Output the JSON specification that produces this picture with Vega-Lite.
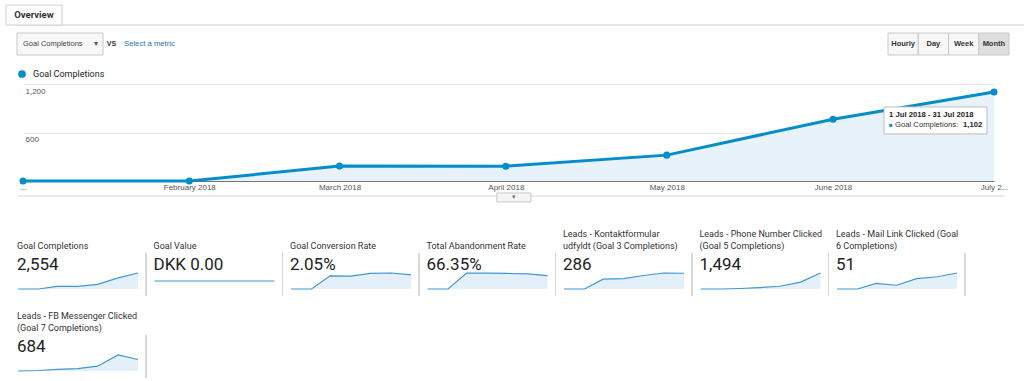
{
  "$schema": "https://vega.github.io/schema/vega-lite/v6.json",
  "background": "white",
  "padding": {"left": 5, "top": 4, "right": 0, "bottom": 0},
  "bounds": "flush",
  "spacing": 8,
  "resolve": {"legend": {"color": "independent"}},
  "config": {"view": {"stroke": null}, "font": "Liberation Sans"},
  "datasets": {
    "main": [
      {"month": "2018-01-01T00:00", "value": 0, "metric": "Goal Completions"},
      {"month": "2018-02-01T00:00", "value": 0, "metric": "Goal Completions"},
      {"month": "2018-03-01T00:00", "value": 184, "metric": "Goal Completions"},
      {"month": "2018-04-01T00:00", "value": 183, "metric": "Goal Completions"},
      {"month": "2018-05-01T00:00", "value": 320, "metric": "Goal Completions"},
      {"month": "2018-06-01T00:00", "value": 765, "metric": "Goal Completions"},
      {"month": "2018-07-01T00:00", "value": 1102, "metric": "Goal Completions"}
    ],
    "tiles": [
      {"tile": "t1", "ord": 1, "title": "Goal Completions", "display": "2,554"},
      {"tile": "t2", "ord": 2, "title": "Goal Value", "display": "DKK 0.00"},
      {"tile": "t3", "ord": 3, "title": "Goal Conversion Rate", "display": "2.05%"},
      {"tile": "t4", "ord": 4, "title": "Total Abandonment Rate", "display": "66.35%"},
      {"tile": "t5", "ord": 5, "title": "Leads - Kontaktformular|udfyldt (Goal 3 Completions)", "display": "286"},
      {"tile": "t6", "ord": 6, "title": "Leads - Phone Number Clicked|(Goal 5 Completions)", "display": "1,494"},
      {"tile": "t7", "ord": 7, "title": "Leads - Mail Link Clicked (Goal|6 Completions)", "display": "51"},
      {"tile": "t8", "ord": 8, "title": "Leads - FB Messenger Clicked|(Goal 7 Completions)", "display": "684"}
    ],
    "spark": [
      {"tile": "t1", "month": "2018-01-01T00:00", "v": 0},
      {"tile": "t1", "month": "2018-02-01T00:00", "v": 0},
      {"tile": "t1", "month": "2018-03-01T00:00", "v": 184},
      {"tile": "t1", "month": "2018-04-01T00:00", "v": 183},
      {"tile": "t1", "month": "2018-05-01T00:00", "v": 320},
      {"tile": "t1", "month": "2018-06-01T00:00", "v": 765},
      {"tile": "t1", "month": "2018-07-01T00:00", "v": 1102},
      {"tile": "t2", "month": "2018-01-01T00:00", "v": 0},
      {"tile": "t2", "month": "2018-02-01T00:00", "v": 0},
      {"tile": "t2", "month": "2018-03-01T00:00", "v": 0},
      {"tile": "t2", "month": "2018-04-01T00:00", "v": 0},
      {"tile": "t2", "month": "2018-05-01T00:00", "v": 0},
      {"tile": "t2", "month": "2018-06-01T00:00", "v": 0},
      {"tile": "t2", "month": "2018-07-01T00:00", "v": 0},
      {"tile": "t3", "month": "2018-01-01T00:00", "v": 0},
      {"tile": "t3", "month": "2018-02-01T00:00", "v": 0},
      {"tile": "t3", "month": "2018-03-01T00:00", "v": 2.52},
      {"tile": "t3", "month": "2018-04-01T00:00", "v": 2.45},
      {"tile": "t3", "month": "2018-05-01T00:00", "v": 2.98},
      {"tile": "t3", "month": "2018-06-01T00:00", "v": 3.05},
      {"tile": "t3", "month": "2018-07-01T00:00", "v": 2.71},
      {"tile": "t4", "month": "2018-01-01T00:00", "v": 0},
      {"tile": "t4", "month": "2018-02-01T00:00", "v": 0},
      {"tile": "t4", "month": "2018-03-01T00:00", "v": 95.2},
      {"tile": "t4", "month": "2018-04-01T00:00", "v": 95.0},
      {"tile": "t4", "month": "2018-05-01T00:00", "v": 92.4},
      {"tile": "t4", "month": "2018-06-01T00:00", "v": 89.6},
      {"tile": "t4", "month": "2018-07-01T00:00", "v": 80.1},
      {"tile": "t5", "month": "2018-01-01T00:00", "v": 0},
      {"tile": "t5", "month": "2018-02-01T00:00", "v": 0},
      {"tile": "t5", "month": "2018-03-01T00:00", "v": 43},
      {"tile": "t5", "month": "2018-04-01T00:00", "v": 45},
      {"tile": "t5", "month": "2018-05-01T00:00", "v": 59},
      {"tile": "t5", "month": "2018-06-01T00:00", "v": 70},
      {"tile": "t5", "month": "2018-07-01T00:00", "v": 69},
      {"tile": "t6", "month": "2018-01-01T00:00", "v": 0},
      {"tile": "t6", "month": "2018-02-01T00:00", "v": 0},
      {"tile": "t6", "month": "2018-03-01T00:00", "v": 26},
      {"tile": "t6", "month": "2018-04-01T00:00", "v": 78},
      {"tile": "t6", "month": "2018-05-01T00:00", "v": 148},
      {"tile": "t6", "month": "2018-06-01T00:00", "v": 373},
      {"tile": "t6", "month": "2018-07-01T00:00", "v": 869},
      {"tile": "t7", "month": "2018-01-01T00:00", "v": 0},
      {"tile": "t7", "month": "2018-02-01T00:00", "v": 0},
      {"tile": "t7", "month": "2018-03-01T00:00", "v": 6},
      {"tile": "t7", "month": "2018-04-01T00:00", "v": 4},
      {"tile": "t7", "month": "2018-05-01T00:00", "v": 11},
      {"tile": "t7", "month": "2018-06-01T00:00", "v": 13},
      {"tile": "t7", "month": "2018-07-01T00:00", "v": 17},
      {"tile": "t8", "month": "2018-01-01T00:00", "v": 0},
      {"tile": "t8", "month": "2018-02-01T00:00", "v": 9},
      {"tile": "t8", "month": "2018-03-01T00:00", "v": 30},
      {"tile": "t8", "month": "2018-04-01T00:00", "v": 45},
      {"tile": "t8", "month": "2018-05-01T00:00", "v": 89},
      {"tile": "t8", "month": "2018-06-01T00:00", "v": 297},
      {"tile": "t8", "month": "2018-07-01T00:00", "v": 214}
    ]
  },
  "vconcat": [
    {
      "width": 1008,
      "height": 20,
      "data": {"values": [{"tab": "Overview"}]},
      "layer": [
        {"mark": {"type": "rule", "color": "#d0d0d0"}, "encoding": {"y": {"value": "height"}}},
        {
          "mark": {"type": "bar", "fill": "white", "stroke": "#d0d0d0", "strokeWidth": 1},
          "encoding": {"x": {"field": "tab", "type": "nominal", "axis": null, "scale": {"type": "band", "range": [-11, 45], "paddingInner": 0, "paddingOuter": 0}}}
        },
        {
          "mark": {"type": "text", "fontWeight": "bold", "fontSize": 9.5, "color": "#333", "font": "Roboto"},
          "encoding": {"x": {"field": "tab", "type": "nominal"}, "text": {"field": "tab"}}
        }
      ]
    },
    {
      "width": 992,
      "height": 22,
      "layer": [
        {
          "data": {"values": [{"sel": "Goal Completions"}]},
          "mark": {"type": "bar", "fill": "#f8f8f8", "stroke": "#c8c8c8", "strokeWidth": 1},
          "encoding": {"x": {"field": "sel", "type": "nominal", "axis": null, "scale": {"type": "band", "range": [0, 86], "paddingInner": 0, "paddingOuter": 0}}}
        },
        {
          "data": {"values": [{"sel": "Goal Completions"}]},
          "mark": {"type": "text", "align": "left", "dx": 6, "fontSize": 7.5, "color": "#444"},
          "encoding": {"x": {"field": "sel", "type": "nominal", "axis": null, "bandPosition": 0, "scale": {"type": "band", "range": [0, 86], "paddingInner": 0, "paddingOuter": 0}}, "text": {"field": "sel"}}
        },
        {
          "data": {"values": [{"sel": "Goal Completions"}]},
          "mark": {"type": "text", "text": "▾", "align": "right", "dx": -5, "fontSize": 8, "color": "#555"},
          "encoding": {"x": {"field": "sel", "type": "nominal", "axis": null, "bandPosition": 1, "scale": {"type": "band", "range": [0, 86], "paddingInner": 0, "paddingOuter": 0}}}
        },
        {
          "data": {"values": [{"vs": "VS"}]},
          "mark": {"type": "text", "fontSize": 7, "fontWeight": "bold", "color": "#333"},
          "encoding": {"x": {"field": "vs", "type": "nominal", "axis": null, "scale": {"type": "band", "range": [86, 103], "paddingInner": 0, "paddingOuter": 0}}, "text": {"field": "vs"}}
        },
        {
          "data": {"values": [{"link": "Select a metric"}]},
          "mark": {"type": "text", "align": "left", "dx": 4, "fontSize": 7.7, "color": "#1f6fb2"},
          "encoding": {"x": {"field": "link", "type": "nominal", "axis": null, "bandPosition": 0, "scale": {"type": "band", "range": [103, 871], "paddingInner": 0, "paddingOuter": 0}}, "text": {"field": "link"}}
        },
        {
          "data": {"values": [{"b": "Hourly", "active": false}, {"b": "Day", "active": false}, {"b": "Week", "active": false}, {"b": "Month", "active": true}]},
          "mark": {"type": "bar", "stroke": "#c8c8c8", "strokeWidth": 1},
          "encoding": {
            "x": {"field": "b", "type": "nominal", "sort": null, "axis": null, "scale": {"type": "band", "range": [871, 992], "paddingInner": 0, "paddingOuter": 0}},
            "fill": {"condition": {"test": "datum.active", "value": "#dedede"}, "value": "#f7f7f7"}
          }
        },
        {
          "data": {"values": [{"b": "Hourly", "active": false}, {"b": "Day", "active": false}, {"b": "Week", "active": false}, {"b": "Month", "active": true}]},
          "mark": {"type": "text", "fontSize": 7.5, "fontWeight": "bold", "color": "#333"},
          "encoding": {
            "x": {"field": "b", "type": "nominal", "sort": null, "axis": null, "scale": {"type": "band", "range": [871, 992], "paddingInner": 0, "paddingOuter": 0}},
            "text": {"field": "b"}
          }
        }
      ],
      "resolve": {"scale": {"x": "independent"}}
    },
    {
      "width": 984,
      "height": 182,
      "data": {"name": "main"},
      "encoding": {
        "x": {
          "field": "month",
          "type": "temporal",
          "scale": {"domain": [{"year": 2018, "month": 1, "date": 1}, {"year": 2018, "month": 7, "date": 1}], "range": [6, 977]},
          "axis": {
            "title": null, "grid": false, "ticks": false, "domain": true, "domainColor": "#777", "offset": -64,
            "labelFontSize": 8, "labelColor": "#555", "labelPadding": 2, "labelFlush": false,
            "labelOverlap": false, "labelBound": false,
            "tickCount": {"interval": "month", "step": 1},
            "labelExpr": "month(datum.value) === 0 ? '...' : month(datum.value) === 6 ? 'July 2...' : timeFormat(datum.value, '%B %Y')"
          }
        },
        "y": {
          "field": "value",
          "type": "quantitative",
          "scale": {"domain": [-792, 1460], "nice": false, "zero": false},
          "axis": {
            "title": null, "values": [600, 1200], "grid": true, "gridColor": "#e8e8e8",
            "domain": false, "ticks": false, "labelAlign": "left", "labelBaseline": "top",
            "labelPadding": -8, "labelOffset": 3, "labelFontSize": 8, "labelColor": "#555",
            "labelExpr": "format(datum.value, ',')"
          }
        }
      },
      "layer": [
        {"mark": {"type": "area", "color": "#e7f2fa"}, "encoding": {"y2": {"datum": 0}}},
        {
          "transform": [{"filter": "month(toDate(datum.month)) === 0"}],
          "mark": {"type": "rule", "color": "#d6d6d6"},
          "encoding": {"x": {"datum": {"year": 2017, "month": 12, "date": 31}, "type": "temporal"}, "x2": {"datum": {"year": 2018, "month": 7, "date": 3}}, "y": {"datum": -186}}
        },
        {
          "transform": [{"filter": "month(toDate(datum.month)) === 0"}],
          "mark": {"type": "point", "shape": "M-1,-0.265H1V0.265H-1Z", "size": 1156, "filled": true, "fill": "#f5f5f5", "stroke": "#c8c8c8", "strokeWidth": 1, "opacity": 1},
          "encoding": {"x": {"datum": {"year": 2018, "month": 4, "date": 2, "hours": 12}, "type": "temporal"}, "y": {"datum": -204}}
        },
        {
          "transform": [{"filter": "month(toDate(datum.month)) === 0"}],
          "mark": {"type": "text", "text": "▾", "fontSize": 7, "color": "#777", "baseline": "middle"},
          "encoding": {"x": {"datum": {"year": 2018, "month": 4, "date": 2, "hours": 12}, "type": "temporal"}, "y": {"datum": -204}}
        },
        {"mark": {"type": "line", "color": "#058dc7", "strokeWidth": 3}},
        {
          "mark": {"type": "point", "filled": true, "size": 50, "opacity": 1},
          "encoding": {
            "color": {
              "field": "metric", "type": "nominal", "scale": {"range": ["#058dc7"]},
              "legend": {"orient": "none", "legendX": 0, "legendY": 6, "title": null, "symbolType": "circle", "symbolSize": 60, "labelFontSize": 9, "labelFont": "Roboto", "labelColor": "#222", "padding": 0, "labelOffset": 6}
            }
          }
        },
        {
          "transform": [{"filter": "month(toDate(datum.month)) === 6"}],
          "mark": {"type": "point", "shape": "M-2.2,0.3H-0.14V0.84H-2.2Z", "size": 10000, "filled": true, "fill": "white", "stroke": "#bdbdbd", "strokeWidth": 1, "opacity": 1}
        },
        {
          "transform": [{"filter": "month(toDate(datum.month)) === 6"}],
          "mark": {"type": "text", "text": "1 Jul 2018 - 31 Jul 2018", "align": "left", "baseline": "middle", "dx": -105, "dy": 23, "fontWeight": "bold", "fontSize": 7.7, "color": "#222"}
        },
        {
          "transform": [{"filter": "month(toDate(datum.month)) === 6"}],
          "mark": {"type": "text", "text": "■", "align": "left", "baseline": "middle", "dx": -105, "dy": 33, "fontSize": 6, "color": "#058dc7"}
        },
        {
          "transform": [{"filter": "month(toDate(datum.month)) === 6"}],
          "mark": {"type": "text", "text": "Goal Completions:", "align": "left", "baseline": "middle", "dx": -99, "dy": 33, "fontSize": 7.7, "color": "#333"}
        },
        {
          "transform": [{"filter": "month(toDate(datum.month)) === 6"}],
          "mark": {"type": "text", "align": "left", "baseline": "middle", "dx": -31, "dy": 33, "fontSize": 7.7, "fontWeight": "bold", "color": "#222"},
          "encoding": {"text": {"field": "value", "type": "quantitative", "format": ","}}
        }
      ]
    },
    {
      "data": {"name": "spark"},
      "transform": [{"lookup": "tile", "from": {"data": {"name": "tiles"}, "key": "tile", "fields": ["title", "display", "ord"]}}],
      "facet": {
        "field": "title", "type": "nominal", "title": null,
        "sort": {"field": "ord", "op": "min"},
        "header": {"title": null, "labelExpr": "split(datum.value, '|')", "labelAnchor": "start", "labelAlign": "left", "labelBaseline": "bottom", "labelFontSize": 9, "labelFont": "Roboto", "labelColor": "#333", "labelPadding": -7, "labelLineHeight": 11.5, "labelLimit": 0}
      },
      "columns": 7,
      "bounds": "flush",
      "spacing": {"column": 7.5, "row": 39},
      "resolve": {"scale": {"y": "independent"}},
      "spec": {
        "width": 129,
        "height": 43,
        "layer": [
          {
            "mark": {"type": "area", "color": "#e4f0f9"},
            "encoding": {
              "x": {"field": "month", "type": "temporal", "axis": null, "scale": {"range": [1, 121]}},
              "y": {"field": "v", "type": "quantitative", "axis": null, "scale": {"range": [36, 20], "nice": false}}
            }
          },
          {
            "mark": {"type": "line", "color": "#3f97cf", "strokeWidth": 1.2},
            "encoding": {
              "x": {"field": "month", "type": "temporal", "axis": null},
              "y": {"field": "v", "type": "quantitative", "axis": null, "scale": {"range": [36, 20], "nice": false}}
            }
          },
          {
            "transform": [{"filter": "month(toDate(datum.month)) === 0"}],
            "mark": {"type": "text", "align": "left", "baseline": "top", "dx": -1, "dy": 4, "fontSize": 17, "font": "Roboto", "color": "#222"},
            "encoding": {
              "x": {"field": "month", "type": "temporal", "axis": null},
              "y": {"datum": 1, "type": "quantitative", "axis": null, "scale": {"domain": [0, 1]}},
              "text": {"field": "display"}
            }
          },
          {
            "mark": {"type": "rule", "color": "#d8d8d8"},
            "encoding": {"x": {"value": "width"}}
          }
        ],
        "resolve": {"scale": {"y": "independent"}}
      }
    }
  ]
}
